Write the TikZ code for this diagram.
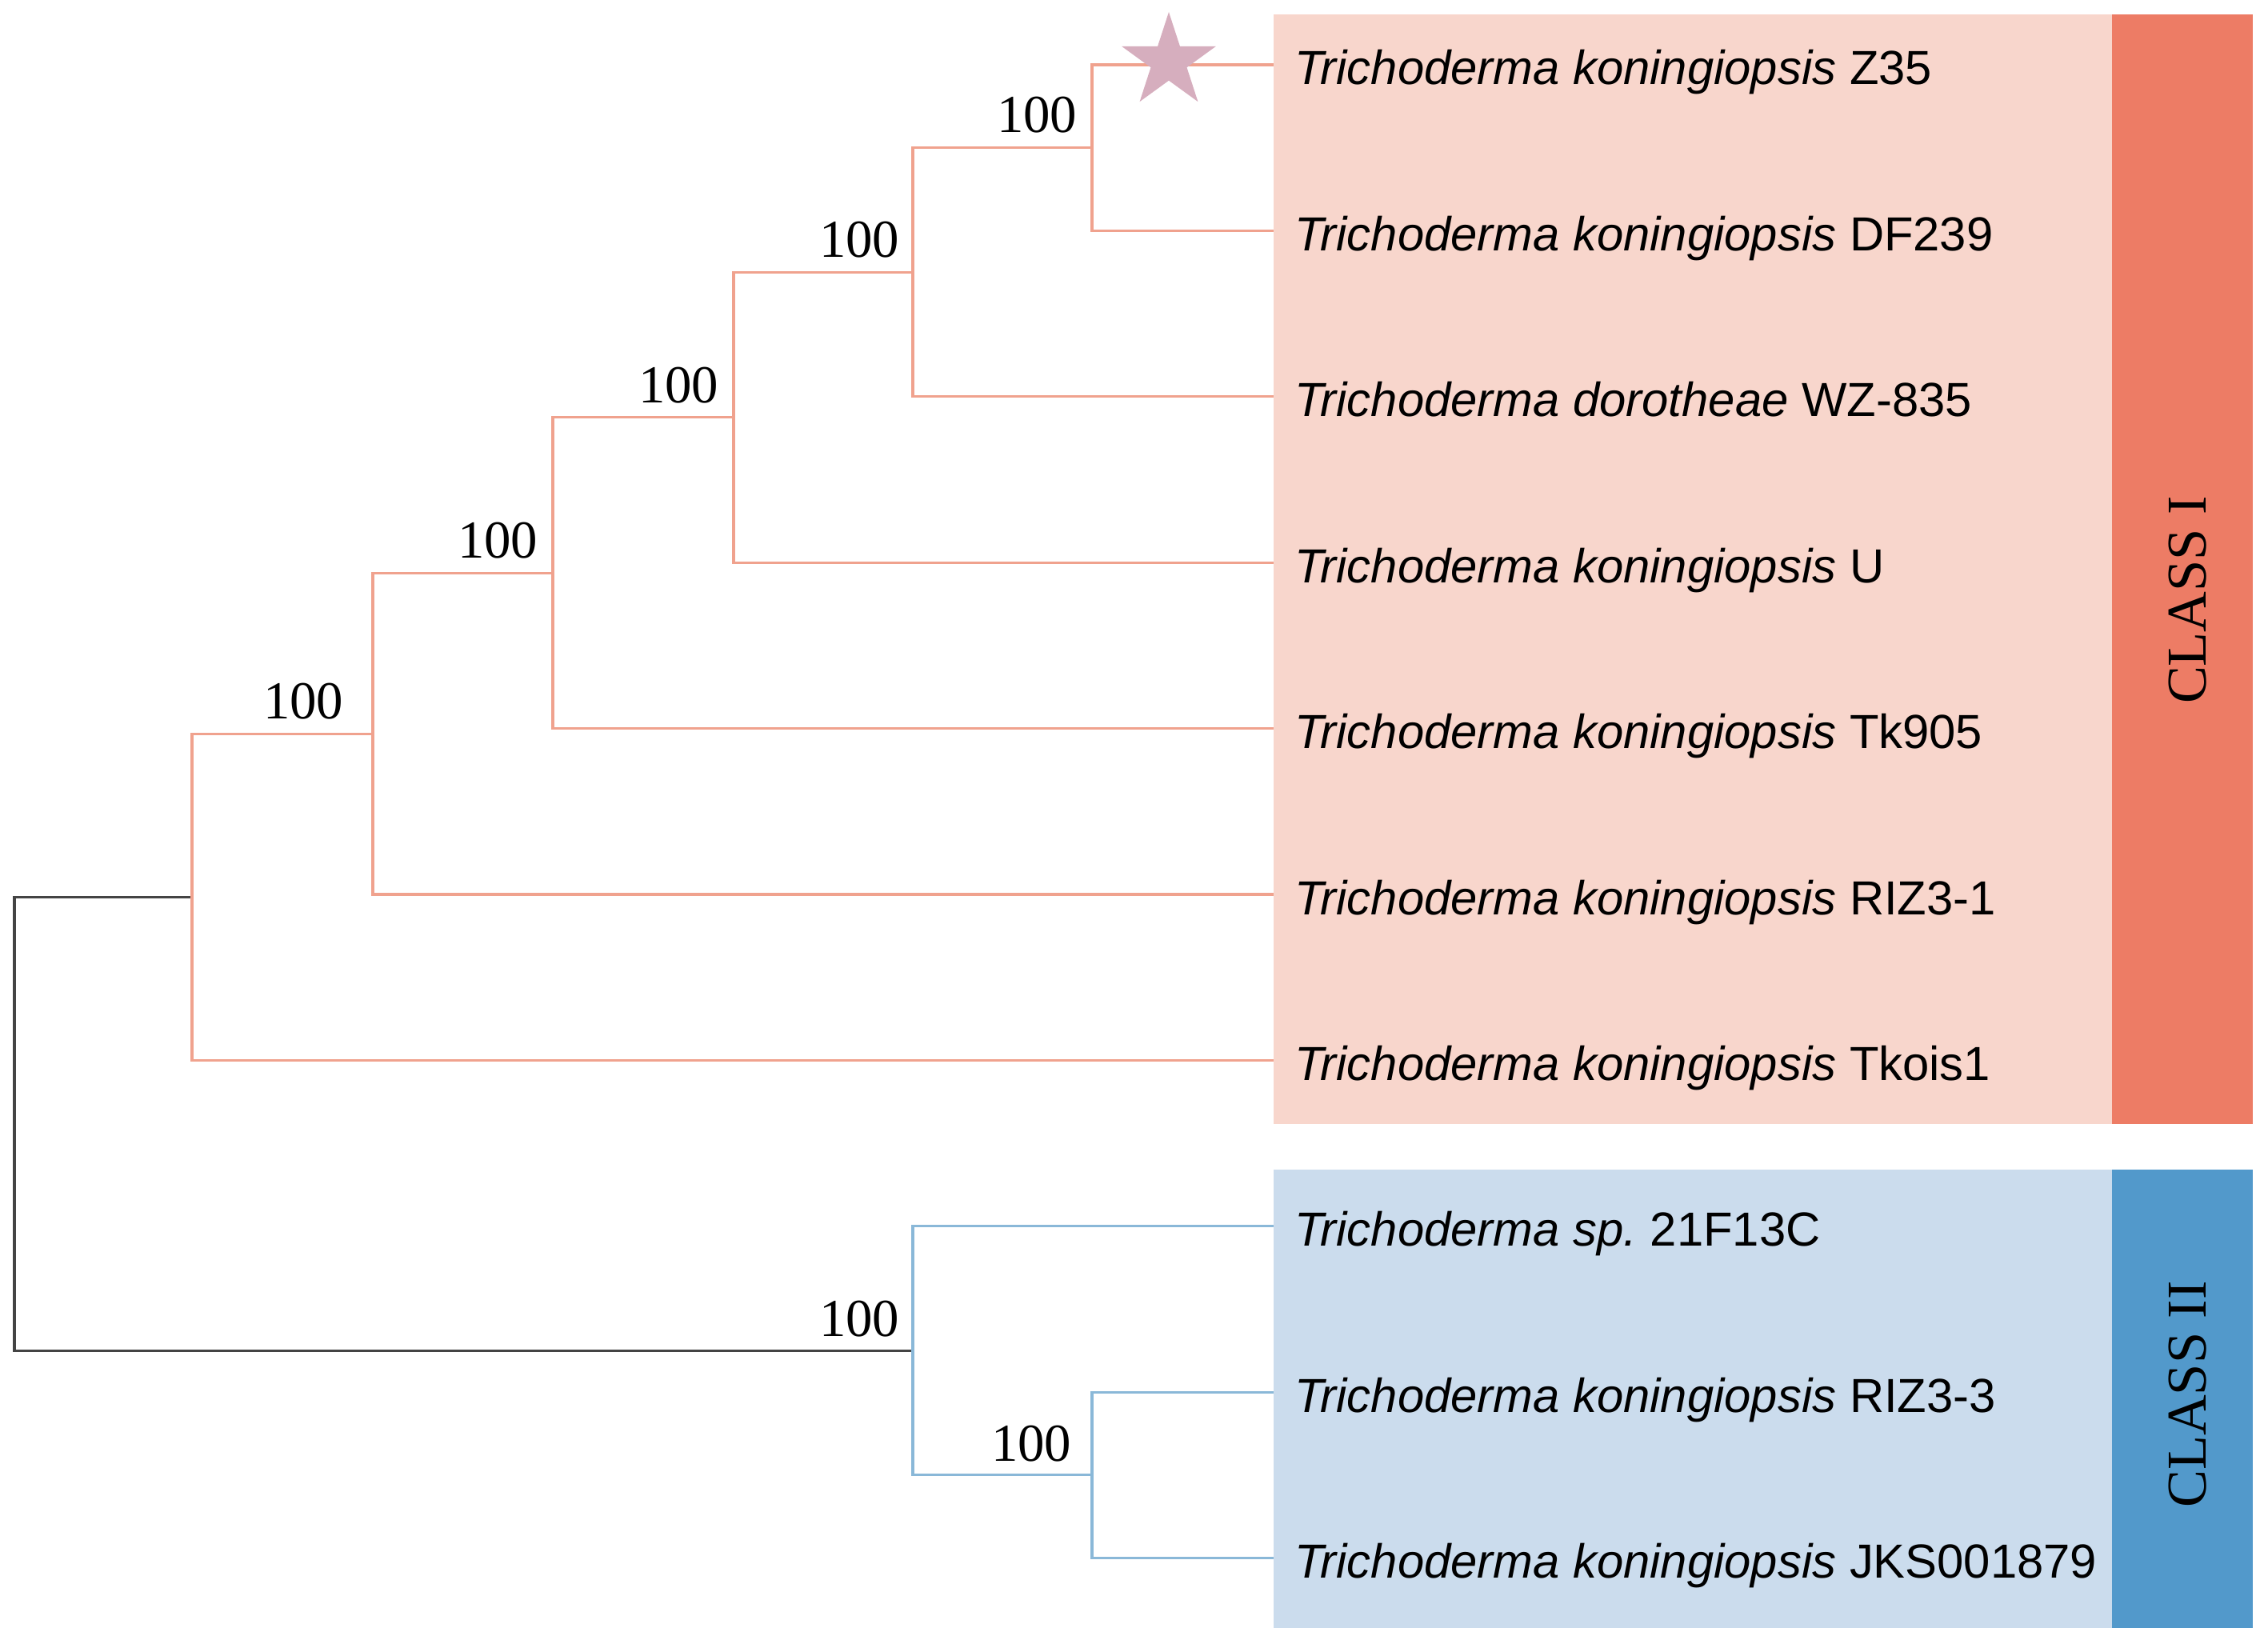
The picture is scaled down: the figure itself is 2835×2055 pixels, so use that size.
\documentclass[tikz,border=0pt]{standalone}
\usepackage{fontspec}
\setmainfont{Liberation Sans}
\newfontfamily\serifnum{Liberation Serif}
\definecolor{pinkline}{RGB}{240,162,142}
\definecolor{blueline}{RGB}{138,184,216}
\definecolor{rootline}{RGB}{68,68,68}
\definecolor{pinkbox}{RGB}{248,214,204}
\definecolor{redbar}{RGB}{237,124,101}
\definecolor{bluebox}{RGB}{203,220,237}
\definecolor{bluebar}{RGB}{82,153,203}
\definecolor{starcol}{RGB}{214,174,190}
\tikzset{
  tip/.style={anchor=base west, inner sep=0pt, font=\fontsize{17}{20}\selectfont},
  boot/.style={anchor=base east, inner sep=0pt, font=\serifnum\fontsize{19}{22}\selectfont},
  classlab/.style={rotate=90, inner sep=0pt, font=\serifnum\fontsize{20}{24}\selectfont},
  pinkbr/.style={draw=pinkline, line width=0.9pt},
  bluebr/.style={draw=blueline, line width=0.9pt},
  rootbr/.style={draw=rootline, line width=0.9pt},
}
\begin{document}
\begin{tikzpicture}[x=0.01cm, y=-0.01cm]
\useasboundingbox (0,0) rectangle (2835,2055);
% background panels
\fill[pinkbox] (1592,18) rectangle (2640,1405);
\fill[redbar] (2640,18) rectangle (2816,1405);
\fill[bluebox] (1592,1462) rectangle (2640,2035);
\fill[bluebar] (2640,1462) rectangle (2816,2035);
\node[classlab] (c1) at (2735,750) {CLASS I};
\node[classlab] (c2) at (2735,1743) {CLASS II};
% tips
\coordinate (t1) at (1592,81);
\coordinate (t2) at (1592,288.4);
\coordinate (t3) at (1592,495.8);
\coordinate (t4) at (1592,703.2);
\coordinate (t5) at (1592,910.6);
\coordinate (t6) at (1592,1118);
\coordinate (t7) at (1592,1325.4);
\coordinate (t8) at (1592,1532.8);
\coordinate (t9) at (1592,1740.2);
\coordinate (t10) at (1592,1947.6);
% internal nodes
\coordinate (a) at (1365,184.7);
\coordinate (b) at (1141,340.25);
\coordinate (c) at (917,521.7);
\coordinate (d) at (691,716.2);
\coordinate (e) at (466,917.1);
\coordinate (f) at (240,1121.2);
\coordinate (g) at (1365,1843.9);
\coordinate (h) at (1141,1688.4);
\coordinate (r) at (18,1404.8);
% branches
\draw[rootbr] (f) -| (r) |- (h);
\draw[pinkbr] (t1) -| (a) |- (t2);
\draw[pinkbr] (a) -| (b) |- (t3);
\draw[pinkbr] (b) -| (c) |- (t4);
\draw[pinkbr] (c) -| (d) |- (t5);
\draw[pinkbr] (d) -| (e) |- (t6);
\draw[pinkbr] (e) -| (f) |- (t7);
\draw[bluebr] (t8) -| (h) |- (g);
\draw[bluebr] (t9) -| (g) |- (t10);
% star
\fill[starcol, shift={(1461,77)}] (270:62) -- (306:23.7) -- (342:62) -- (18:23.7) -- (54:62)
  -- (90:23.7) -- (126:62) -- (162:23.7) -- (198:62) -- (234:23.7) -- cycle;
% bootstrap values
\node[boot] (ba) at (1347,166) {100};
\node[boot] (bb) at (1125,322) {100};
\node[boot] (bc) at (899,504) {100};
\node[boot] (bd) at (673,698) {100};
\node[boot] (be) at (430,899) {100};
\node[boot] (bh) at (1125,1670) {100};
\node[boot] (bg) at (1340,1826) {100};
% tip labels
\node[tip] (l1) at (1618,106) {\itshape Trichoderma koningiopsis\upshape\ Z35};
\node[tip] (l2) at (1618,313.4) {\itshape Trichoderma koningiopsis\upshape\ DF239};
\node[tip] (l3) at (1618,520.8) {\itshape Trichoderma dorotheae\upshape\ WZ-835};
\node[tip] (l4) at (1618,728.2) {\itshape Trichoderma koningiopsis\upshape\ U};
\node[tip] (l5) at (1618,935.6) {\itshape Trichoderma koningiopsis\upshape\ Tk905};
\node[tip] (l6) at (1618,1143) {\itshape Trichoderma koningiopsis\upshape\ RIZ3-1};
\node[tip] (l7) at (1618,1350.4) {\itshape Trichoderma koningiopsis\upshape\ Tkois1};
\node[tip] (l8) at (1618,1557.8) {\itshape Trichoderma sp.\upshape\ 21F13C};
\node[tip] (l9) at (1618,1765.2) {\itshape Trichoderma koningiopsis\upshape\ RIZ3-3};
\node[tip] (l10) at (1618,1972.6) {\itshape Trichoderma koningiopsis\upshape\ JKS001879};
\end{tikzpicture}
\end{document}
